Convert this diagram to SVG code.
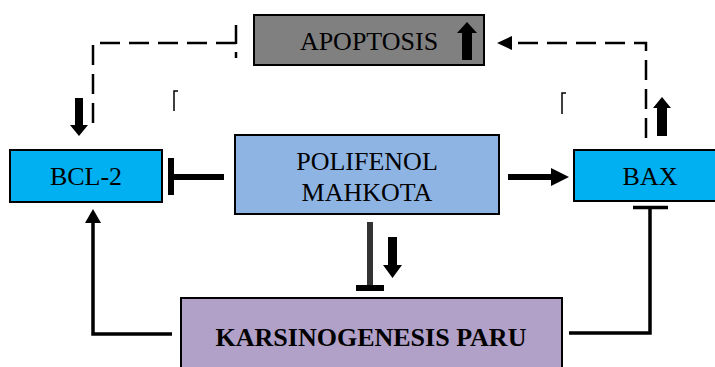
<svg xmlns="http://www.w3.org/2000/svg" width="715" height="367" viewBox="0 0 715 367">
  <style>
    .box { stroke: #000; stroke-width: 2; }
    .lbl { font-family: "Liberation Serif", "Times New Roman", serif; font-size: 26px; fill: #000; text-anchor: middle; }
    .bold { font-weight: bold; }
    .dash { fill: none; stroke: #000; stroke-width: 2.5; stroke-dasharray: 20 9; }
    .solid { fill: none; stroke: #000; stroke-width: 3.5; }
    .thick { fill: none; stroke: #000; stroke-width: 6; }
    .thin { fill: none; stroke: #000; stroke-width: 1.5; }
  </style>
  <defs>
    <marker id="tri" viewBox="0 0 10 10" refX="10" refY="5" markerUnits="userSpaceOnUse" markerWidth="16" markerHeight="16" orient="auto">
      <path d="M0,0 L10,5 L0,10 Z" fill="#000"/>
    </marker>
  </defs>
  <rect width="715" height="367" fill="#fff"/>

  <g id="apoptosis">
    <rect class="box" x="254" y="15" width="230" height="50" fill="#808080"/>
    <text class="lbl" x="369" y="50">APOPTOSIS</text>
    <path d="M467,22 L477,33 L472,33 L472,60 L462,60 L462,33 L457,33 Z" fill="#000"/>
  </g>

  <g id="bcl2">
    <rect class="box" x="10" y="150" width="152" height="52" fill="#00B0F0"/>
    <text class="lbl" x="86" y="185">BCL-2</text>
  </g>

  <g id="bax">
    <rect class="box" x="574" y="150" width="152" height="51" fill="#00B0F0"/>
    <text class="lbl" x="650" y="185">BAX</text>
  </g>

  <g id="polifenol">
    <rect class="box" x="235" y="135" width="264" height="79" fill="#8EB4E3"/>
    <text class="lbl" x="367" y="170">POLIFENOL</text>
    <text class="lbl" x="367" y="201">MAHKOTA</text>
  </g>

  <g id="karsinogenesis">
    <rect class="box" x="181" y="298" width="381" height="80" fill="#B1A0C7"/>
    <text class="lbl bold" x="371" y="346">KARSINOGENESIS PARU</text>
  </g>

  <g id="connectors">
    <!-- dashed: apoptosis inhibits to BCL-2 side -->
    <path class="dash" d="M236,43 L93,43 L93,127"/>
    <line x1="236" y1="25" x2="236" y2="58" stroke="#000" stroke-width="2.5" stroke-dasharray="19 8 6 10"/>
    <!-- dashed arrow BAX to apoptosis -->
    <path class="dash" d="M646,138 L646,43 L505,43" stroke-dasharray="20 9"/>
    <path d="M497,43 L512,36 L512,50 Z" fill="#000"/>

    <!-- small brackets -->
    <path class="thin" d="M178,91 L174,91 L174,111"/>
    <path class="thin" d="M566,93 L562,93 L562,114"/>

    <!-- thick indicator arrows -->
    <path d="M79,136 L88,125 L83,125 L83,98 L75,98 L75,125 L70,125 Z" fill="#000"/>
    <path d="M662,97 L671,108 L667,108 L667,136 L657,136 L657,108 L653,108 Z" fill="#000"/>
    <path d="M392.5,278 L402,265 L397,265 L397,237 L388,237 L388,265 L383,265 Z" fill="#000"/>

    <!-- polifenol inhibits BCL-2 -->
    <line class="thick" x1="224" y1="177" x2="174" y2="177"/>
    <line class="thick" x1="171" y1="158" x2="171" y2="195"/>

    <!-- polifenol activates BAX -->
    <line class="thick" x1="508" y1="177" x2="553" y2="177"/>
    <path d="M569,177 L551,168 L551,186 Z" fill="#000"/>

    <!-- polifenol inhibits karsinogenesis -->
    <line x1="370" y1="222" x2="370" y2="286" stroke="#333" stroke-width="6"/>
    <line class="thick" x1="356" y1="288" x2="384" y2="288"/>

    <!-- karsinogenesis to BCL-2 -->
    <path class="solid" d="M172,334 L93,334 L93,222"/>
    <path d="M93,209 L101,223 L85,223 Z" fill="#000"/>

    <!-- karsinogenesis inhibits BAX -->
    <path class="solid" d="M569,333 L650,333 L650,208"/>
    <line x1="633" y1="207.5" x2="668" y2="207.5" stroke="#000" stroke-width="3.5"/>
  </g>
</svg>
